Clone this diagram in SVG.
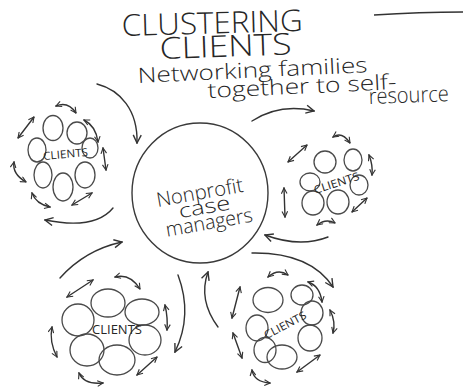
<svg xmlns="http://www.w3.org/2000/svg" width="463" height="388" viewBox="0 0 463 388">
<style>
  .bg { fill: #ffffff; }
  .oval { fill: none; stroke: #4a4a4a; stroke-width: 1.3; }
  .arr { fill: none; stroke: #333333; stroke-width: 1.4; stroke-linecap: round; }
  .big { marker-end: url(#head); }
  .dbl { marker-start: url(#shead); marker-end: url(#shead); }
  .hand { font-family: "Open Sans", "Liberation Sans", "DejaVu Sans", sans-serif; font-weight: 300; fill: #262626; }
  .title { font-size: 30px; }
  .sub { font-size: 21px; }
  .mid { font-size: 20px; }
  .cl { font-size: 11px; font-weight: 400; }
  .line { fill: none; stroke: #333333; stroke-width: 1.4; }
</style>
<defs>
  <marker id="head" viewBox="0 0 10 10" refX="9" refY="5" markerWidth="10" markerHeight="10" markerUnits="userSpaceOnUse" orient="auto-start-reverse">
    <path d="M1,1 L9,5 L1,9" fill="none" stroke="#333333" stroke-width="1.4"/>
  </marker>
  <marker id="shead" viewBox="0 0 10 10" refX="9" refY="5" markerWidth="7" markerHeight="7" markerUnits="userSpaceOnUse" orient="auto-start-reverse">
    <path d="M1,1 L9,5 L1,9" fill="none" stroke="#333333" stroke-width="1.6"/>
  </marker>
</defs>
<rect class="bg" x="0" y="0" width="463" height="388"/>

<g id="title">
  <text class="hand title" x="0" y="0" textLength="181" lengthAdjust="spacingAndGlyphs" transform="translate(122 36) rotate(-1.6)">CLUSTERING</text>
  <text class="hand title" x="0" y="0" textLength="132" lengthAdjust="spacingAndGlyphs" transform="translate(160 59) rotate(-2)">CLIENTS</text>
  <text class="hand sub" x="0" y="0" textLength="230" lengthAdjust="spacingAndGlyphs" transform="translate(138 83) rotate(-2.7)">Networking families</text>
  <text class="hand sub" x="0" y="0" textLength="189" lengthAdjust="spacingAndGlyphs" transform="translate(208 98) rotate(-2.7)">together to self-</text>
  <text class="hand sub" x="0" y="0" textLength="80" lengthAdjust="spacingAndGlyphs" style="font-size:22px" transform="translate(369 104) rotate(-2)">resource</text>
  <path class="line" d="M374,15 Q420,12 463,12"/>
</g>

<g id="center-node">
  <ellipse class="oval" cx="200" cy="193" rx="68" ry="70" style="stroke:#3a3a3a;stroke-width:1.4"/>
  <g transform="rotate(-10 203 205)">
    <text class="hand mid" x="158" y="199" textLength="88" lengthAdjust="spacingAndGlyphs">Nonprofit</text>
    <text class="hand mid" x="178" y="214" textLength="52" lengthAdjust="spacingAndGlyphs">case</text>
    <text class="hand mid" x="162" y="230" textLength="88" lengthAdjust="spacingAndGlyphs">managers</text>
  </g>
</g>

<g id="cluster-left">
  <ellipse class="oval" cx="53" cy="128" rx="10" ry="12.5"/>
  <ellipse class="oval" cx="77" cy="133" rx="10" ry="11"/>
  <ellipse class="oval" cx="90" cy="148" rx="8" ry="10"/>
  <ellipse class="oval" cx="37" cy="150" rx="9" ry="12"/>
  <ellipse class="oval" cx="43" cy="175" rx="9" ry="13"/>
  <ellipse class="oval" cx="63" cy="187" rx="10" ry="14"/>
  <ellipse class="oval" cx="85" cy="175" rx="10" ry="13"/>
  <text class="hand cl" x="43" y="158" textLength="45" lengthAdjust="spacingAndGlyphs" transform="rotate(-5 65 154)">CLIENTS</text>
  <path class="arr dbl" d="M56,106 Q68,101 76,113"/>
  <path class="arr dbl" d="M18,138 L34,117"/>
  <path class="arr dbl" d="M84,120 Q96,126 98,142"/>
  <path class="arr dbl" d="M103,148 L106,170"/>
  <path class="arr dbl" d="M14,162 Q12,174 26,182"/>
  <path class="arr dbl" d="M32,193 Q36,204 50,207"/>
  <path class="arr dbl" d="M72,205 L92,193"/>
</g>

<g id="cluster-right">
  <ellipse class="oval" cx="325" cy="162" rx="11" ry="11"/>
  <ellipse class="oval" cx="353" cy="160" rx="9" ry="11"/>
  <ellipse class="oval" cx="310" cy="182" rx="10" ry="9"/>
  <ellipse class="oval" cx="359" cy="185" rx="9" ry="10"/>
  <ellipse class="oval" cx="313" cy="203" rx="11" ry="12"/>
  <ellipse class="oval" cx="338" cy="202" rx="11" ry="12"/>
  <text class="hand cl" x="313" y="187" textLength="47" lengthAdjust="spacingAndGlyphs" transform="rotate(-18 336 183)">CLIENTS</text>
  <path class="arr dbl" d="M333,137 Q342,131 350,143"/>
  <path class="arr dbl" d="M288,162 L307,145"/>
  <path class="arr dbl" d="M369,155 Q373,165 372,175"/>
  <path class="arr dbl" d="M284,188 L285,217"/>
  <path class="arr dbl" d="M352,212 L367,198"/>
  <path class="arr dbl" d="M317,225 Q326,218 335,223"/>
</g>

<g id="cluster-bottom-left">
  <ellipse class="oval" cx="108" cy="303" rx="17" ry="14"/>
  <ellipse class="oval" cx="142" cy="312" rx="17" ry="13"/>
  <ellipse class="oval" cx="78" cy="320" rx="16" ry="16"/>
  <ellipse class="oval" cx="145" cy="340" rx="16" ry="15"/>
  <ellipse class="oval" cx="87" cy="350" rx="17" ry="16"/>
  <ellipse class="oval" cx="117" cy="360" rx="18" ry="15"/>
  <text class="hand cl" x="92" y="334" textLength="50" lengthAdjust="spacingAndGlyphs" style="font-size:12px">CLIENTS</text>
  <path class="arr dbl" d="M67,297 L93,280"/>
  <path class="arr dbl" d="M115,277 Q130,273 140,289"/>
  <path class="arr dbl" d="M165,305 Q168,318 167,330"/>
  <path class="arr dbl" d="M52,327 Q49,342 57,357"/>
  <path class="arr dbl" d="M137,375 L157,357"/>
  <path class="arr dbl" d="M79,373 Q84,385 103,383"/>
</g>

<g id="cluster-bottom-right">
  <ellipse class="oval" cx="268" cy="300" rx="15" ry="12.5"/>
  <ellipse class="oval" cx="302" cy="295" rx="11" ry="10"/>
  <ellipse class="oval" cx="312" cy="313" rx="11" ry="12"/>
  <ellipse class="oval" cx="257" cy="328" rx="11" ry="13"/>
  <ellipse class="oval" cx="310" cy="338" rx="12" ry="13"/>
  <ellipse class="oval" cx="265" cy="350" rx="11" ry="12.5"/>
  <ellipse class="oval" cx="282" cy="357" rx="15" ry="12"/>
  <text class="hand cl" x="262" y="329" textLength="46" lengthAdjust="spacingAndGlyphs" transform="rotate(-28 285 325)">CLIENTS</text>
  <path class="arr dbl" d="M268,277 Q278,268 288,275"/>
  <path class="arr dbl" d="M232,318 L240,287"/>
  <path class="arr dbl" d="M308,282 Q320,286 322,302"/>
  <path class="arr dbl" d="M330,310 Q336,322 333,333"/>
  <path class="arr dbl" d="M233,333 L242,358"/>
  <path class="arr dbl" d="M297,372 L320,355"/>
  <path class="arr dbl" d="M252,370 Q254,382 270,383"/>
</g>

<g id="connectors">
  <path class="arr big" d="M97,84 C120,90 138,110 137,143"/>
  <path class="arr big" d="M113,208 Q95,230 45,220"/>
  <path class="arr big" d="M252,121 Q280,103 314,111"/>
  <path class="arr big" d="M328,237 Q300,248 265,235"/>
  <path class="arr big" d="M60,278 Q85,250 122,242"/>
  <path class="arr big" d="M178,275 Q193,315 175,352"/>
  <path class="arr big" d="M252,253 Q310,252 333,287"/>
  <path class="arr big" d="M218,327 Q198,300 208,272"/>
</g>
</svg>
